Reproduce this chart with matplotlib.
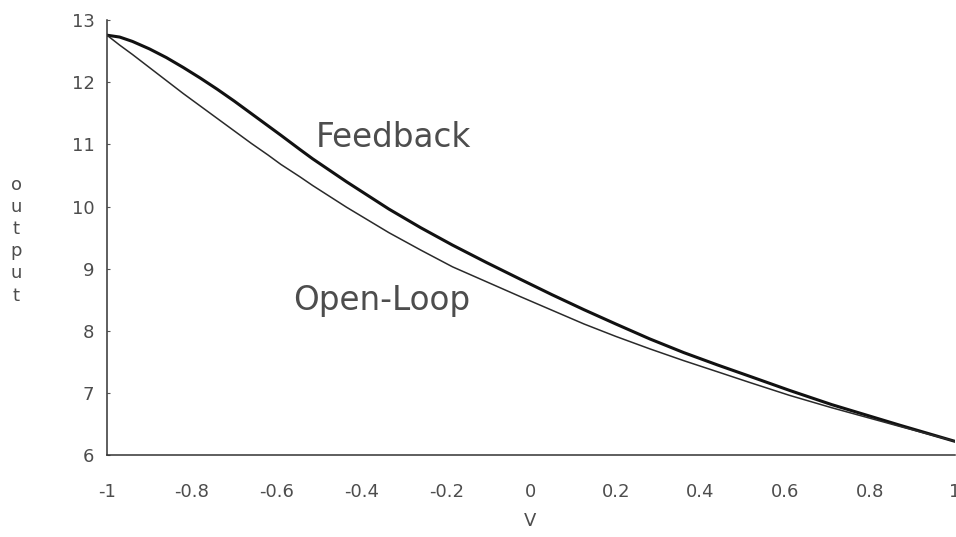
import matplotlib
matplotlib.use("Agg")
import matplotlib.pyplot as plt

# values
v = [-1.0, -0.97, -0.94, -0.90, -0.86, -0.82, -0.78, -0.74, -0.70, -0.66,
     -0.62, -0.59, -0.545, -0.515, -0.435, -0.335, -0.26, -0.185, -0.105, -0.025,
     0.05, 0.125, 0.20, 0.28, 0.36, 0.44, 0.515, 0.61, 0.71, 0.87, 1.0]
feedback = [12.76, 12.73, 12.66, 12.54, 12.40, 12.24, 12.07, 11.89, 11.70, 11.50,
            11.30, 11.15, 10.92, 10.77, 10.40, 9.96, 9.66, 9.38, 9.10, 8.83,
            8.58, 8.34, 8.11, 7.87, 7.65, 7.45, 7.27, 7.04, 6.81, 6.48, 6.22]
open_loop = [12.76, 12.60, 12.45, 12.24, 12.03, 11.82, 11.62, 11.42, 11.22, 11.02,
             10.83, 10.68, 10.48, 10.34, 9.99, 9.58, 9.30, 9.03, 8.79, 8.55,
             8.33, 8.11, 7.91, 7.71, 7.52, 7.34, 7.17, 6.96, 6.76, 6.46, 6.22]

x_ticks = [-1, -0.8, -0.6, -0.4, -0.2, 0, 0.2, 0.4, 0.6, 0.8, 1]
x_labels = ["-1", "-0.8", "-0.6", "-0.4", "-0.2", "0", "0.2", "0.4", "0.6", "0.8", "1"]
y_ticks = [6, 7, 8, 9, 10, 11, 12, 13]

txt = "#4d4d4d"
plt.rcParams['font.family'] = ['DejaVu Sans']

fig = plt.figure(figsize=(9.56, 5.37), dpi=100)
ax = fig.add_axes([0.1119, 0.1527, 0.887, 0.8095])

ax.plot(v, feedback, color="#111111", lw=2.2, solid_capstyle="round")
ax.plot(v, open_loop, color="#2a2a2a", lw=1.1)

ax.set_xlim(-1, 1)
ax.set_ylim(6, 13)
ax.set_xticks(x_ticks)
ax.set_xticklabels(x_labels)
ax.set_yticks(y_ticks)
ax.tick_params(axis="x", length=0, pad=20, labelsize=13, labelcolor=txt)
ax.tick_params(axis="y", length=2, direction="in", pad=9, labelsize=13,
               labelcolor=txt, color="#555555")

for s in ["top", "right"]:
    ax.spines[s].set_visible(False)
for s in ["left", "bottom"]:
    ax.spines[s].set_color("#333333")
    ax.spines[s].set_linewidth(1.1)

ax.text(-0.507, 10.96, "Feedback", fontsize=23.5, color=txt, va="baseline", ha="left")
ax.text(-0.560, 8.33, "Open-Loop", fontsize=23.5, color=txt, va="baseline", ha="left")

fig.text(0.017, 0.553, "o\nu\nt\np\nu\nt", fontsize=13, color=txt,
         ha="center", va="center", linespacing=1.3)
fig.text(0.554, 0.030, "V", fontsize=13, color=txt, ha="center", va="center")

fig.savefig("out.png", dpi=100)
